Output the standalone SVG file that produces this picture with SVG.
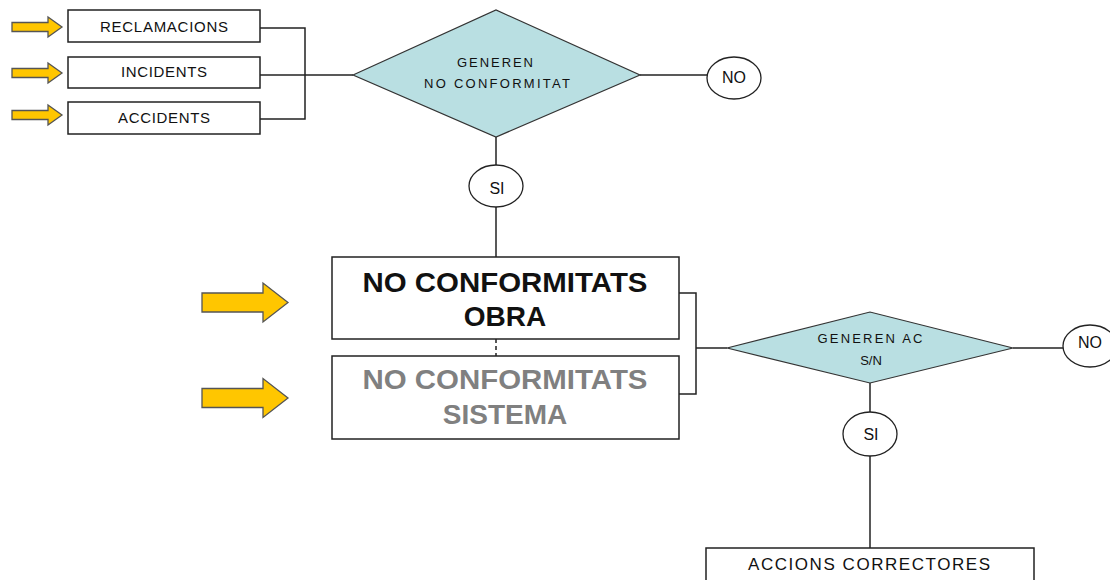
<svg xmlns="http://www.w3.org/2000/svg" width="1110" height="580" viewBox="0 0 1110 580">
<style>
.box{fill:#fff;stroke:#222;stroke-width:1.5}
.dia{fill:#b9dfe2;stroke:#333;stroke-width:1.2}
.ell{fill:#fff;stroke:#222;stroke-width:1.3}
.arr{fill:#ffc600;stroke:#555;stroke-width:1.3}
.ln{fill:none;stroke:#222;stroke-width:1.5}
.t{font-family:"Liberation Sans",Arial,sans-serif;fill:#111;text-anchor:middle}
.s{font-size:15px}
.d{font-size:13px}
.e{font-size:16px}
.b{font-size:28px;font-weight:bold}
</style>
<defs>
<polygon id="sa" class="arr" points="0,-4.5 36,-4.5 36,-10 50,0 36,10 36,4.5 0,4.5"/>
<polygon id="ba" class="arr" points="0,-9.5 61,-9.5 61,-19.5 86,0 61,19.5 61,9.5 0,9.5"/>
</defs>
<g id="connectors">
<polyline class="ln" points="260,28 305,28 305,119 260,119"/>
<line class="ln" x1="260" y1="75" x2="353" y2="75"/>
<line class="ln" x1="640" y1="75" x2="707" y2="75"/>
<line class="ln" x1="496" y1="137" x2="496" y2="165"/>
<line class="ln" x1="496" y1="207" x2="496" y2="257"/>
<line class="ln" x1="496" y1="339" x2="496" y2="356" stroke-dasharray="4,3"/>
<polyline class="ln" points="679,293 696,293 696,394 679,394"/>
<line class="ln" x1="696" y1="348" x2="727" y2="348"/>
<line class="ln" x1="1013" y1="348" x2="1063" y2="348"/>
<line class="ln" x1="870" y1="383" x2="870" y2="412"/>
<line class="ln" x1="870" y1="456" x2="870" y2="548"/>
</g>
<g id="arrows">
<use href="#sa" x="12" y="27"/>
<use href="#sa" x="12" y="73"/>
<use href="#sa" x="12" y="115"/>
<use href="#ba" x="202" y="302.5"/>
<use href="#ba" x="202" y="398"/>
</g>
<g id="reclamacions">
<rect class="box" x="68" y="10" width="192" height="32"/>
<text class="t s" x="164" y="32" textLength="128" lengthAdjust="spacing">RECLAMACIONS</text>
</g>
<g id="incidents">
<rect class="box" x="68" y="57" width="192" height="31"/>
<text class="t s" x="164" y="77" textLength="86" lengthAdjust="spacing">INCIDENTS</text>
</g>
<g id="accidents">
<rect class="box" x="68" y="102" width="192" height="32"/>
<text class="t s" x="164" y="123" textLength="92" lengthAdjust="spacing">ACCIDENTS</text>
</g>
<g id="dec1">
<polygon class="dia" points="353,75 496,10 640,75 496,137"/>
<text class="t d" x="495" y="67" textLength="76" lengthAdjust="spacing">GENEREN</text>
<text class="t d" x="497" y="88" textLength="146" lengthAdjust="spacing">NO CONFORMITAT</text>
</g>
<g id="no1">
<ellipse class="ell" cx="734" cy="78" rx="27" ry="21"/>
<text class="t e" x="734" y="83">NO</text>
</g>
<g id="si1">
<ellipse class="ell" cx="496" cy="186" rx="27" ry="21"/>
<text class="t e" x="497" y="194">SI</text>
</g>
<g id="nc-obra">
<rect class="box" x="332" y="257" width="347" height="82"/>
<text class="t b" x="505" y="292" textLength="285" lengthAdjust="spacingAndGlyphs">NO CONFORMITATS</text>
<text class="t b" x="505" y="326">OBRA</text>
</g>
<g id="nc-sistema">
<rect class="box" x="332" y="356" width="347" height="83"/>
<text class="t b" x="505" y="389" style="fill:#808080" textLength="285" lengthAdjust="spacingAndGlyphs">NO CONFORMITATS</text>
<text class="t b" x="505" y="424" style="fill:#808080">SISTEMA</text>
</g>
<g id="dec2">
<polygon class="dia" points="727,348 870,312 1013,348 870,383"/>
<text class="t d" x="870" y="343" textLength="105" lengthAdjust="spacing">GENEREN AC</text>
<text class="t d" x="871" y="365">S/N</text>
</g>
<g id="no2">
<ellipse class="ell" cx="1090" cy="346" rx="27" ry="21"/>
<text class="t e" x="1090" y="348">NO</text>
</g>
<g id="si2">
<ellipse class="ell" cx="870" cy="434" rx="27" ry="22"/>
<text class="t e" x="871" y="440">SI</text>
</g>
<g id="accions">
<rect class="box" x="706" y="548" width="328" height="40"/>
<text class="t" x="869" y="570" font-size="17" textLength="242" lengthAdjust="spacing">ACCIONS CORRECTORES</text>
</g>
</svg>
